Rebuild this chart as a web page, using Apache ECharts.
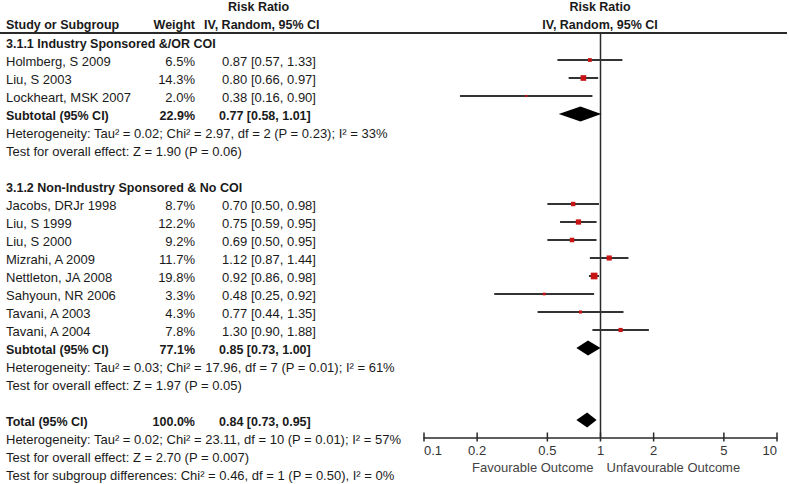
<!DOCTYPE html>
<html><head><meta charset="utf-8">
<script src="https://cdn.jsdelivr.net/npm/echarts@6/dist/echarts.min.js"></script>
<style>html,body{margin:0;padding:0;background:#fff}#c{width:789px;height:484px}</style>
</head><body><div id="c"></div>
<script>
// ---------------- DATA ----------------
const group1Title = '3.1.1 Industry Sponsored &/OR COI';
const group1Studies = ['Holmberg, S 2009', 'Liu, S 2003', 'Lockheart, MSK 2007'];
const group1Weights = [6.5, 14.3, 2.0];
const group1RR = [0.87, 0.80, 0.38];
const group1Lo = [0.57, 0.66, 0.16];
const group1Hi = [1.33, 0.97, 0.90];
const group1Subtotal = [22.9, 0.77, 0.58, 1.01]; // weight, rr, lo, hi
const group1Het = 'Heterogeneity: Tau\u00b2 = 0.02; Chi\u00b2 = 2.97, df = 2 (P = 0.23); I\u00b2 = 33%';
const group1Test = 'Test for overall effect: Z = 1.90 (P = 0.06)';

const group2Title = '3.1.2 Non-Industry Sponsored & No COI';
const group2Studies = ['Jacobs, DRJr 1998', 'Liu, S 1999', 'Liu, S 2000', 'Mizrahi, A 2009', 'Nettleton, JA 2008', 'Sahyoun, NR 2006', 'Tavani, A 2003', 'Tavani, A 2004'];
const group2Weights = [8.7, 12.2, 9.2, 11.7, 19.8, 3.3, 4.3, 7.8];
const group2RR = [0.70, 0.75, 0.69, 1.12, 0.92, 0.48, 0.77, 1.30];
const group2Lo = [0.50, 0.59, 0.50, 0.87, 0.86, 0.25, 0.44, 0.90];
const group2Hi = [0.98, 0.95, 0.95, 1.44, 0.98, 0.92, 1.35, 1.88];
const group2Subtotal = [77.1, 0.85, 0.73, 1.00];
const group2Het = 'Heterogeneity: Tau\u00b2 = 0.03; Chi\u00b2 = 17.96, df = 7 (P = 0.01); I\u00b2 = 61%';
const group2Test = 'Test for overall effect: Z = 1.97 (P = 0.05)';

const total = [100.0, 0.84, 0.73, 0.95];
const totalNotes = [
  'Heterogeneity: Tau\u00b2 = 0.02; Chi\u00b2 = 23.11, df = 10 (P = 0.01); I\u00b2 = 57%',
  'Test for overall effect: Z = 2.70 (P = 0.007)',
  'Test for subgroup differences: Chi\u00b2 = 0.46, df = 1 (P = 0.50), I\u00b2 = 0%'
];
const tickValues = [0.1, 0.2, 0.5, 1, 2, 5, 10];
const leftAxisLabel = 'Favourable Outcome';
const rightAxisLabel = 'Unfavourable Outcome';

// ---------------- LAYOUT ----------------
const W = 789, H = 484;
const ROW0 = 42, ROWH = 18;
const GRID_TOP = 33, AXIS_Y = 437.5;
const PLOT_LEFT = 424, PLOT_RIGHT = 777;
const FONT = '"Liberation Sans", Arial, sans-serif';
const BOLD = 'bold 12.5px ' + FONT;
const NORMAL = '13px ' + FONT;
const TXT = '#1a1a1a';
const COL_NAME = 6, COL_WEIGHT = 195, COL_EFFECT = 222, COL_EFFECT_B = 219;
const TEXT_DY = 1.5;

// build row list
const rows = [];
let k = 0;
function fmtEffect(rr, lo, hi) { return rr.toFixed(2) + ' [' + lo.toFixed(2) + ', ' + hi.toFixed(2) + ']'; }
function addGroup(title, names, w, rr, lo, hi, sub, het, test) {
  rows.push({k: k++, kind: 'title', text: title});
  names.forEach((n, i) => rows.push({k: k++, kind: 'study', name: n, w: w[i], rr: rr[i], lo: lo[i], hi: hi[i]}));
  rows.push({k: k++, kind: 'sub', name: 'Subtotal (95% CI)', w: sub[0], rr: sub[1], lo: sub[2], hi: sub[3]});
  rows.push({k: k++, kind: 'note', text: het});
  rows.push({k: k++, kind: 'note', text: test});
  k++;
}
addGroup(group1Title, group1Studies, group1Weights, group1RR, group1Lo, group1Hi, group1Subtotal, group1Het, group1Test);
addGroup(group2Title, group2Studies, group2Weights, group2RR, group2Lo, group2Hi, group2Subtotal, group2Het, group2Test);
rows.push({k: k++, kind: 'sub', name: 'Total (95% CI)', w: total[0], rr: total[1], lo: total[2], hi: total[3]});
totalNotes.forEach(t => rows.push({k: k++, kind: 'note', text: t}));

const yMin = (GRID_TOP - ROW0) / ROWH;
const yMax = (AXIS_Y - ROW0) / ROWH;
const tyMin = (0 - ROW0) / ROWH;
const tyMax = (H - ROW0) / ROWH;

const studyRows = rows.filter(r => r.kind === 'study');
const subRows = rows.filter(r => r.kind === 'sub');

const chart = echarts.init(document.getElementById('c'), null, {renderer: 'svg'});

function txt(x, y, s, opts) {
  return {type: 'text', x: x, y: y, style: Object.assign({
    text: s, fill: TXT, font: NORMAL, verticalAlign: 'middle', align: 'left'
  }, opts || {})};
}

chart.setOption({
  animation: false,
  backgroundColor: '#fff',
  grid: [
    {left: PLOT_LEFT, right: W - PLOT_RIGHT, top: GRID_TOP, bottom: H - AXIS_Y},
    {left: 0, right: 0, top: 0, bottom: 0}
  ],
  xAxis: [
    {type: 'log', logBase: 10, min: 0.1, max: 10, gridIndex: 0,
     axisLine: {show: true, onZero: false, lineStyle: {color: '#2a2a2a', width: 1.5}},
     axisTick: {show: false}, axisLabel: {show: false}, splitLine: {show: false}},
    {type: 'value', min: 0, max: W, gridIndex: 1, show: false}
  ],
  yAxis: [
    {type: 'value', min: yMin, max: yMax, inverse: true, gridIndex: 0, show: false},
    {type: 'value', min: tyMin, max: tyMax, inverse: true, gridIndex: 1, show: false}
  ],
  graphic: [
    {type: 'line', shape: {x1: 0, y1: GRID_TOP, x2: 787, y2: GRID_TOP}, style: {stroke: '#2a2a2a', lineWidth: 2}, z: 10},
    txt(228, 7, 'Risk Ratio', {font: BOLD}),
    txt(204, 24.5, 'IV, Random, 95% CI', {font: BOLD}),
    txt(6, 24.5, 'Study or Subgroup', {font: BOLD}),
    txt(195, 24.5, 'Weight', {font: BOLD, align: 'right'}),
    txt(600, 7, 'Risk Ratio', {font: BOLD, align: 'center'}),
    txt(600, 24.5, 'IV, Random, 95% CI', {font: BOLD, align: 'center'})
  ],
  series: [
    // table text
    {
      type: 'custom', xAxisIndex: 1, yAxisIndex: 1, silent: true,
      data: rows.map(r => [0, r.k]),
      renderItem: function (params, api) {
        const r = rows[params.dataIndex];
        const y = api.coord([0, r.k])[1] + TEXT_DY;
        const ch = [];
        if (r.kind === 'title') {
          ch.push(txt(COL_NAME, y, r.text, {font: BOLD}));
        } else if (r.kind === 'note') {
          ch.push(txt(COL_NAME, y, r.text));
        } else {
          const f = r.kind === 'sub' ? BOLD : NORMAL;
          ch.push(txt(COL_NAME, y, r.name, {font: f}));
          ch.push(txt(COL_WEIGHT, y, r.w.toFixed(1) + '%', {font: f, align: 'right'}));
          ch.push(txt(r.kind === 'sub' ? COL_EFFECT_B : COL_EFFECT, y, fmtEffect(r.rr, r.lo, r.hi), {font: f}));
        }
        return {type: 'group', children: ch};
      }
    },
    // reference line at 1 + outcome labels
    {
      type: 'custom', xAxisIndex: 0, yAxisIndex: 0, silent: true, z: 2,
      data: [[1, yMin]],
      renderItem: function (params, api) {
        const top = api.coord([1, yMin]);
        const bot = api.coord([1, yMax]);
        return {type: 'group', children: [
          {type: 'line', shape: {x1: top[0], y1: top[1], x2: bot[0], y2: bot[1]}, style: {stroke: '#2a2a2a', lineWidth: 1.5}},
          txt(bot[0] - 7, bot[1] + 30, leftAxisLabel, {align: 'right', fill: '#444'}),
          txt(bot[0] + 6, bot[1] + 30, rightAxisLabel, {align: 'left', fill: '#444'})
        ]};
      }
    },
    // axis ticks and labels
    {
      type: 'custom', xAxisIndex: 0, yAxisIndex: 0, silent: true, z: 3,
      data: tickValues.map(v => [v, yMax]),
      renderItem: function (params, api) {
        const v = tickValues[params.dataIndex];
        const p = api.coord([v, yMax]);
        const n = tickValues.length;
        const al = params.dataIndex === 0 ? 'left' : (params.dataIndex === n - 1 ? 'right' : 'center');
        return {type: 'group', children: [
          {type: 'line', shape: {x1: p[0], y1: p[1] - 5, x2: p[0], y2: p[1] + 4}, style: {stroke: '#2a2a2a', lineWidth: 1.5}},
          txt(p[0], p[1] + 13, String(v), {align: al, fill: '#333'})
        ]};
      }
    },
    // study CI lines and weighted squares
    {
      type: 'custom', xAxisIndex: 0, yAxisIndex: 0, silent: true, z: 4,
      data: studyRows.map(r => [r.rr, r.k, r.lo, r.hi, r.w]),
      renderItem: function (params, api) {
        const r = studyRows[params.dataIndex];
        const a = api.coord([r.lo, r.k]);
        const b = api.coord([r.hi, r.k]);
        const c = api.coord([r.rr, r.k]);
        const s = Math.max(2, 1.5 * Math.sqrt(r.w));
        return {type: 'group', children: [
          {type: 'line', shape: {x1: a[0], y1: a[1], x2: b[0], y2: b[1]}, style: {stroke: '#333', lineWidth: 2}},
          {type: 'rect', shape: {x: c[0] - s / 2, y: c[1] - s / 2, width: s, height: s}, style: {fill: '#c81414'}}
        ]};
      }
    },
    // pooled diamonds
    {
      type: 'custom', xAxisIndex: 0, yAxisIndex: 0, silent: true, z: 5,
      data: subRows.map(r => [r.rr, r.k, r.lo, r.hi]),
      renderItem: function (params, api) {
        const r = subRows[params.dataIndex];
        const a = api.coord([r.lo, r.k]);
        const b = api.coord([r.hi, r.k]);
        const c = api.coord([r.rr, r.k]);
        const h = 7.5;
        return {type: 'polygon', shape: {points: [[a[0], a[1]], [c[0], c[1] - h], [b[0], b[1]], [c[0], c[1] + h]]}, style: {fill: '#000'}};
      }
    }
  ]
});
</script>
</body></html>
